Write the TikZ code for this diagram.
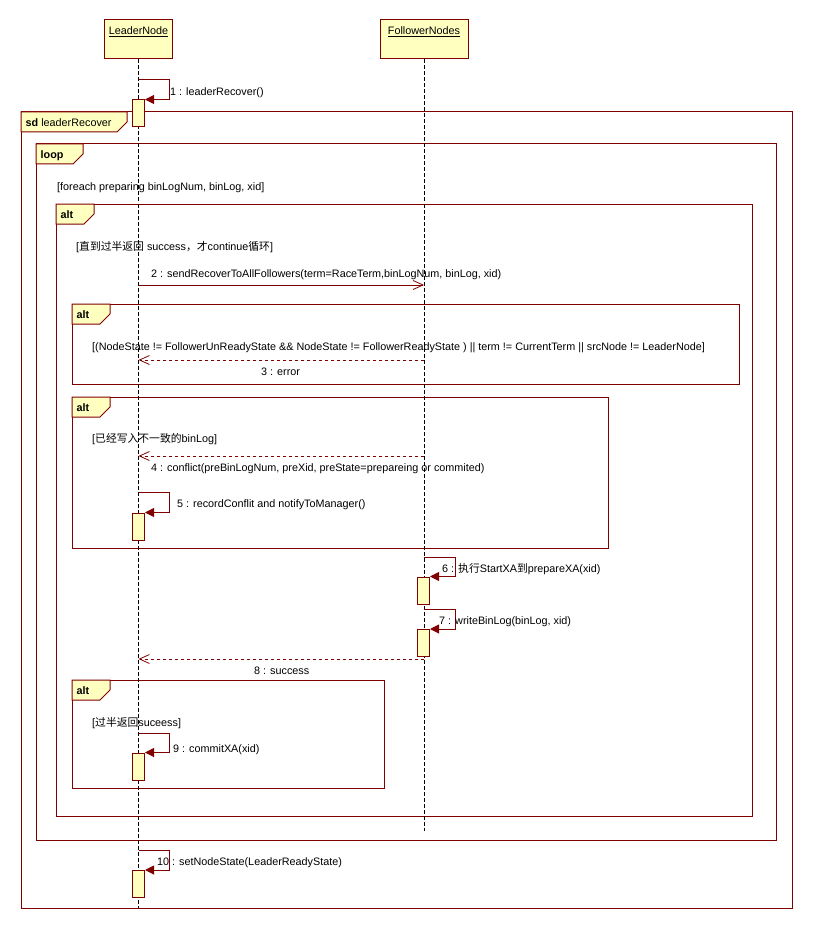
\documentclass[tikz,border=0pt]{standalone}
\usepackage{fontspec}
\setmainfont{Liberation Sans}
\newfontfamily\cjk{Noto Sans CJK SC}
\usetikzlibrary{arrows.meta,positioning}
\definecolor{frm}{RGB}{128,0,0}
\definecolor{yel}{RGB}{255,255,192}

\begin{document}
\begin{tikzpicture}[x=1pt,y=-1pt,
    every node/.style={font=\fontsize{10.8}{13}\selectfont,inner sep=0pt},
    head/.style={draw=frm,fill=yel,line width=1pt,minimum height=39pt},
    act/.style={draw=frm,fill=yel,line width=1pt,minimum width=12pt,minimum height=27pt},
    life/.style={dash pattern=on 4pt off 2pt,line width=0.8pt},
    frame/.style={draw=frm,line width=1pt},
    tab/.style={draw=frm,fill=yel,line width=1pt},
    txt/.style={anchor=west,text height=8pt,text depth=2.2pt,yshift=-1.5pt},
    call/.style={draw=frm,line width=0.8pt,-{Straight Barb[length=10pt,width=9pt]}},
    reply/.style={call,dash pattern=on 3pt off 3pt},
    self/.style={draw=frm,line width=1pt,-{Triangle[length=9pt,width=9pt]}}]
    \useasboundingbox (0,0) rectangle (812,928);

    % Frames (sd, loop, alts)
    \foreach \xa/\ya/\xb/\yb/\tw/\lab [count=\i] in {
        21/112/792/908/106/{\textbf{sd} leaderRecover},
        36/144/776/840/47/\textbf{loop},
        56/204/752/816/38/\textbf{alt},
        72/304/739/384/38/\textbf{alt},
        72/397/608/548/38/\textbf{alt},
        72/680/384/788/38/\textbf{alt}}
    {
        \draw[frame] (\xa,\ya) rectangle (\xb,\yb);
        \filldraw[tab] (\xa,\ya) -- ++(\tw,0) -- ++(0,10) -- ++(-10,10) -- (\xa,\ya+20) -- cycle;
        \node[txt] (tag\i) at (\xa+4.5,\ya+10) {\lab};
    }

    % Guards
    \node[txt] (g1) at (57,186) {[foreach preparing binLogNum, binLog, xid]};
    \node[txt] (g2) at (76,246) {[{\cjk 直到过半返回} success{\cjk ，才}continue{\cjk 循环}]};
    \node[txt] (g3) at (92,346) {[(NodeState != FollowerUnReadyState \&\& NodeState != FollowerReadyState ) || term != CurrentTerm || srcNode != LeaderNode]};
    \node[txt] (g4) at (92,438) {[{\cjk 已经写入不一致的}binLog]};
    \node[txt] (g5) at (92,722) {[{\cjk 过半返回}suceess]};

    % Lifelines
    \node[head,minimum width=68pt] (lead) at (138.5,39.5) {};
    \node[below=7pt of lead.north] (leadname) {\underline{LeaderNode}};
    \node[head,minimum width=88pt] (foll) at (424,39.5) {};
    \node[below=7pt of foll.north] (follname) {\underline{FollowerNodes}};
    \coordinate (leadend) at (138.5,908);
    \coordinate (follend) at (424,831);
    \draw[life] (lead.south) -- (leadend);
    \draw[life] (foll.south) -- (follend);

    % Activations
    \node[act] (act1) at (138.5,113.5) {};
    \node[act] (act5) at (138.5,526.5) {};
    \node[act] (act6) at (423.5,590.5) {};
    \node[act] (act7) at (423.5,643) {};
    \node[act] (act9) at (138.5,766.5) {};
    \node[act] (act10) at (138.5,884) {};

    % Self calls
    \coordinate (s1) at (138.5,80);
    \coordinate (s5) at (138.5,492);
    \coordinate (s6) at (424,557);
    \coordinate (s7) at (424,609);
    \coordinate (s9) at (138.5,733);
    \coordinate (s10) at (138.5,850);
    \draw[self] (s1) -- ++(31,0) |- (act1.north east);
    \draw[self] (s5) -- ++(31,0) |- (act5.north east);
    \draw[self] (s6) -- ++(31,0) |- (act6.north east);
    \draw[self] (s7) -- ++(31,0) |- (act7.north east);
    \draw[self] (s9) -- ++(31,0) |- (act9.north east);
    \draw[self] (s10) -- ++(31,0) |- (act10.north east);

    % Messages between lifelines
    \foreach \m/\y in {2/285,3/360,4/456,8/659} {
        \coordinate (l\m) at (138.5,\y);
        \coordinate (f\m) at (424,\y);
    }
    \draw[call] (l2) -- (f2);
    \draw[reply] (f3) -- (l3);
    \draw[reply] (f4) -- (l4);
    \draw[reply] (f8) -- (l8);

    % Message labels
    \node[txt] (msg1) at (170,91) {1 : leaderRecover()};
    \node[txt] (msg2) at (151,273) {2 : sendRecoverToAllFollowers(term=RaceTerm,binLogNum, binLog, xid)};
    \node[txt] (msg3) at (261,371) {3 : error};
    \node[txt] (msg4) at (151,467) {4 : conflict(preBinLogNum, preXid, preState=prepareing or commited)};
    \node[txt] (msg5) at (177,503) {5 : recordConflit and notifyToManager()};
    \node[txt] (msg6) at (442,568) {6 : {\cjk 执行}StartXA{\cjk 到}prepareXA(xid)};
    \node[txt] (msg7) at (439,620) {7 : writeBinLog(binLog, xid)};
    \node[txt] (msg8) at (254,670) {8 : success};
    \node[txt] (msg9) at (173,748) {9 : commitXA(xid)};
    \node[txt] (msg10) at (157,861) {10 : setNodeState(LeaderReadyState)};
\end{tikzpicture}
\end{document}
